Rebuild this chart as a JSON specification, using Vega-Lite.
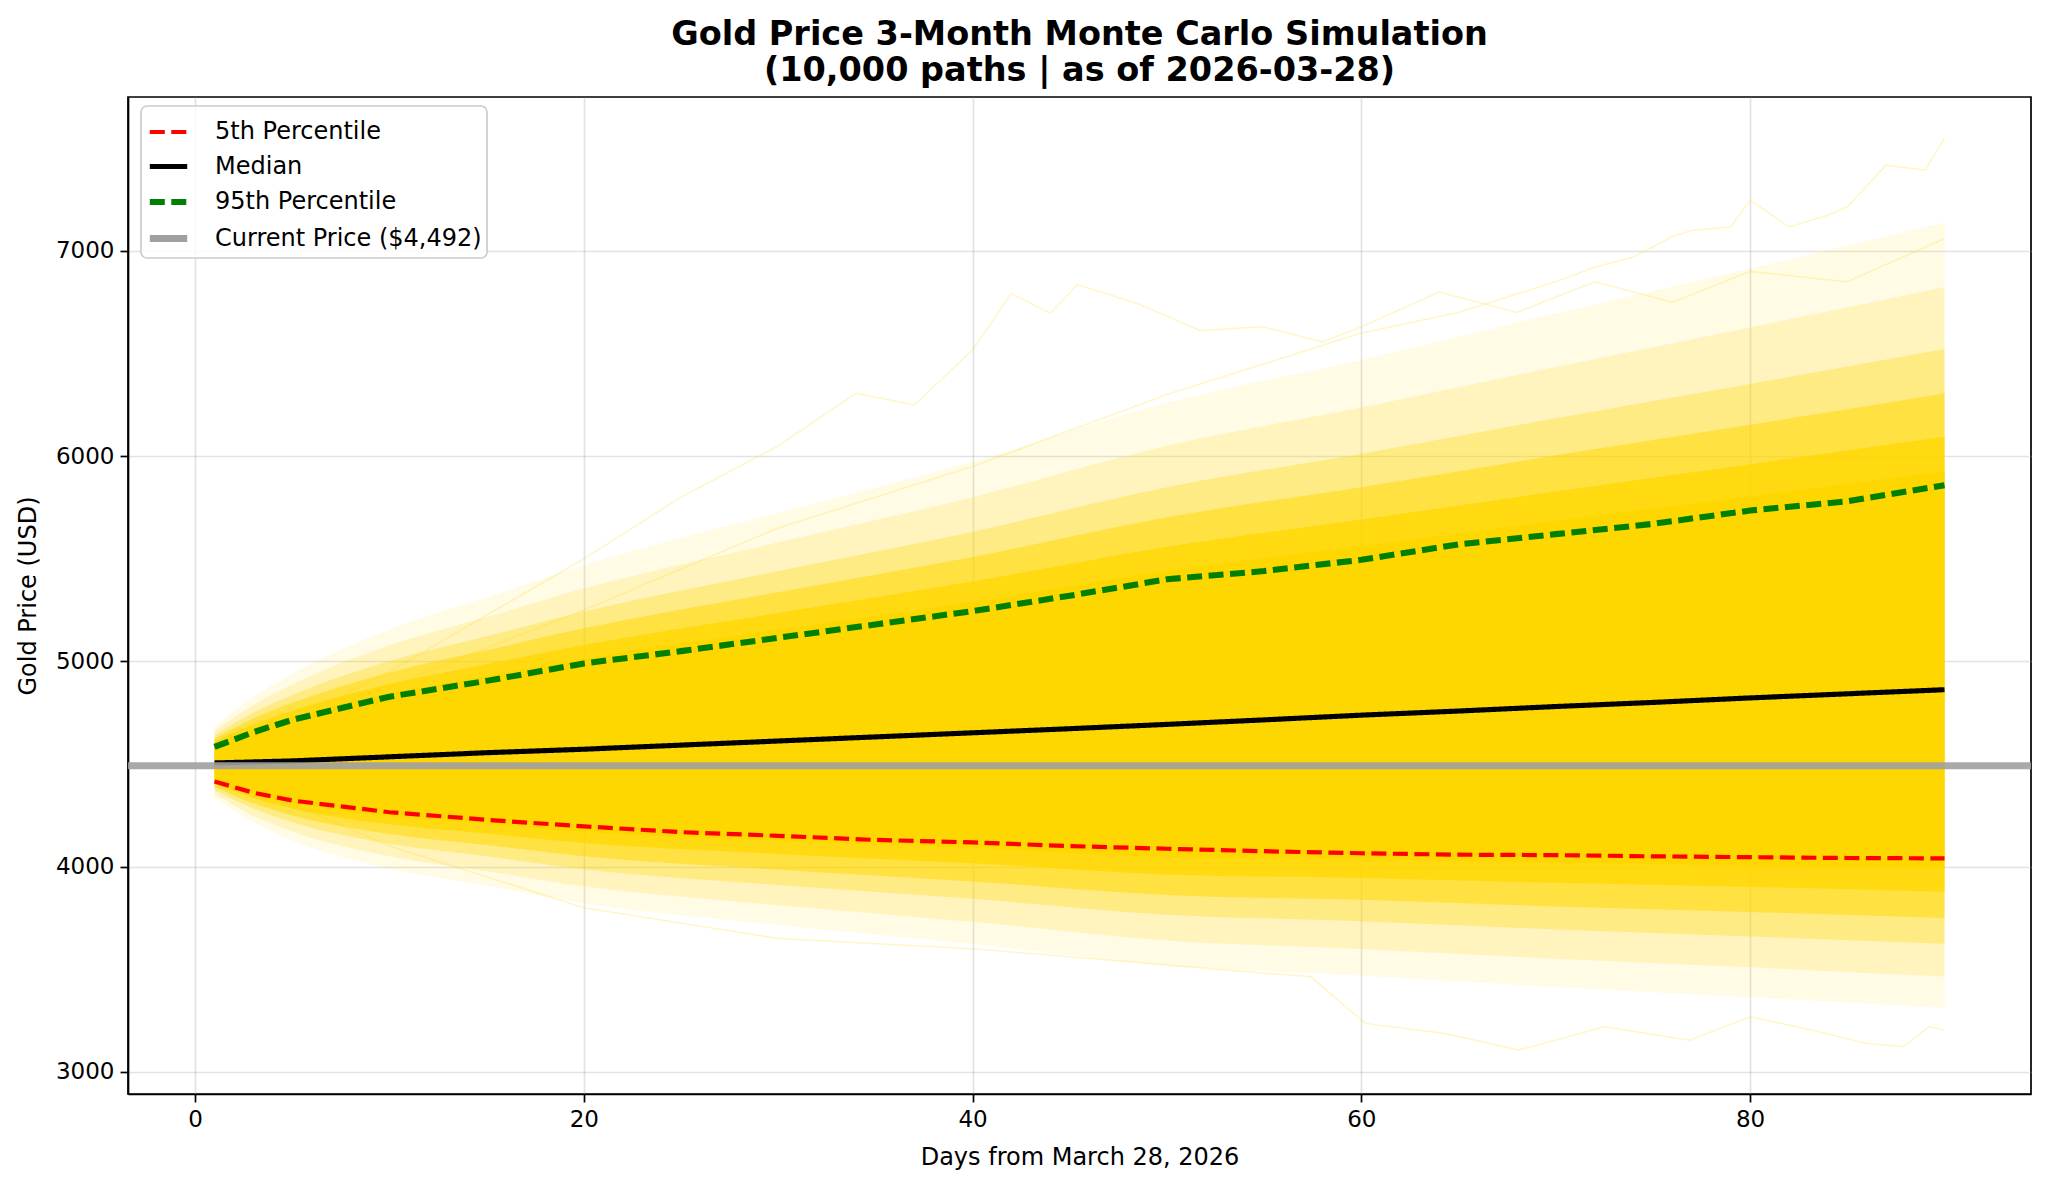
{
  "$schema": "https://vega.github.io/schema/vega-lite/v6.json",
  "description": "Gold price 3-month Monte Carlo simulation, percentile bands and lines",
  "autosize": {"type": "none"},
  "width": 1903,
  "height": 997,
  "padding": {"left": 128, "top": 97, "right": 17, "bottom": 93},
  "title": {
    "text": ["Gold Price 3-Month Monte Carlo Simulation", "(10,000 paths | as of 2026-03-28)"],
    "fontSize": 33.5,
    "fontWeight": "bold",
    "lineHeight": 36,
    "anchor": "middle",
    "offset": 9,
    "color": "black"
  },
  "datasets": {
    "bands": [
      {"day": 1, "a_lo": 4416, "a_hi": 4596, "b_lo": 4404, "b_hi": 4609, "c_lo": 4388, "c_hi": 4624, "d_lo": 4373, "d_hi": 4640, "e_lo": 4354, "e_hi": 4661, "f_lo": 4334, "f_hi": 4683},
      {"day": 3, "a_lo": 4356, "a_hi": 4670, "b_lo": 4334, "b_hi": 4693, "c_lo": 4308, "c_hi": 4722, "d_lo": 4283, "d_hi": 4750, "e_lo": 4248, "e_hi": 4787, "f_lo": 4215, "f_hi": 4826},
      {"day": 5, "a_lo": 4311, "a_hi": 4729, "b_lo": 4283, "b_hi": 4760, "c_lo": 4249, "c_hi": 4798, "d_lo": 4216, "d_hi": 4836, "e_lo": 4171, "e_hi": 4887, "f_lo": 4127, "f_hi": 4939},
      {"day": 10, "a_lo": 4245, "a_hi": 4844, "b_lo": 4206, "b_hi": 4890, "c_lo": 4159, "c_hi": 4946, "d_lo": 4111, "d_hi": 5002, "e_lo": 4050, "e_hi": 5078, "f_lo": 3989, "f_hi": 5155},
      {"day": 15, "a_lo": 4208, "a_hi": 4930, "b_lo": 4161, "b_hi": 4986, "c_lo": 4105, "c_hi": 5054, "d_lo": 4050, "d_hi": 5123, "e_lo": 3977, "e_hi": 5216, "f_lo": 3906, "f_hi": 5312},
      {"day": 20, "a_lo": 4169, "a_hi": 5014, "b_lo": 4115, "b_hi": 5080, "c_lo": 4050, "c_hi": 5161, "d_lo": 3987, "d_hi": 5243, "e_lo": 3904, "e_hi": 5355, "f_lo": 3822, "f_hi": 5469},
      {"day": 30, "a_lo": 4127, "a_hi": 5154, "b_lo": 4062, "b_hi": 5236, "c_lo": 3985, "c_hi": 5337, "d_lo": 3910, "d_hi": 5440, "e_lo": 3812, "e_hi": 5580, "f_lo": 3716, "f_hi": 5724},
      {"day": 40, "a_lo": 4091, "a_hi": 5290, "b_lo": 4016, "b_hi": 5389, "c_lo": 3928, "c_hi": 5509, "d_lo": 3843, "d_hi": 5632, "e_lo": 3731, "e_hi": 5800, "f_lo": 3623, "f_hi": 5973},
      {"day": 50, "a_lo": 4047, "a_hi": 5442, "b_lo": 3962, "b_hi": 5559, "c_lo": 3862, "c_hi": 5702, "d_lo": 3766, "d_hi": 5849, "e_lo": 3640, "e_hi": 6051, "f_lo": 3519, "f_hi": 6260},
      {"day": 60, "a_lo": 4036, "a_hi": 5562, "b_lo": 3945, "b_hi": 5691, "c_lo": 3838, "c_hi": 5849, "d_lo": 3734, "d_hi": 6012, "e_lo": 3599, "e_hi": 6237, "f_lo": 3470, "f_hi": 6469},
      {"day": 70, "a_lo": 4019, "a_hi": 5685, "b_lo": 3921, "b_hi": 5828, "c_lo": 3806, "c_hi": 6004, "d_lo": 3694, "d_hi": 6185, "e_lo": 3551, "e_hi": 6435, "f_lo": 3413, "f_hi": 6695},
      {"day": 80, "a_lo": 4006, "a_hi": 5805, "b_lo": 3901, "b_hi": 5961, "c_lo": 3779, "c_hi": 6153, "d_lo": 3660, "d_hi": 6352, "e_lo": 3509, "e_hi": 6627, "f_lo": 3363, "f_hi": 6914},
      {"day": 90, "a_lo": 3989, "a_hi": 5925, "b_lo": 3878, "b_hi": 6095, "c_lo": 3749, "c_hi": 6305, "d_lo": 3624, "d_hi": 6522, "e_lo": 3464, "e_hi": 6824, "f_lo": 3311, "f_hi": 7139}
    ],
    "paths": [
      {"path": "A", "day": 1, "price": 4520}, {"path": "A", "day": 10, "price": 4950}, {"path": "A", "day": 20, "price": 5500},
      {"path": "A", "day": 25, "price": 5800}, {"path": "A", "day": 30, "price": 6050}, {"path": "A", "day": 34, "price": 6306},
      {"path": "A", "day": 37, "price": 6249}, {"path": "A", "day": 40, "price": 6517}, {"path": "A", "day": 42, "price": 6793},
      {"path": "A", "day": 44, "price": 6696}, {"path": "A", "day": 45.4, "price": 6836}, {"path": "A", "day": 48.5, "price": 6743},
      {"path": "A", "day": 51.7, "price": 6612}, {"path": "A", "day": 54.9, "price": 6631}, {"path": "A", "day": 58, "price": 6556},
      {"path": "A", "day": 60, "price": 6630}, {"path": "A", "day": 64, "price": 6800}, {"path": "A", "day": 68, "price": 6700},
      {"path": "A", "day": 72, "price": 6850}, {"path": "A", "day": 76, "price": 6750}, {"path": "A", "day": 80, "price": 6900},
      {"path": "A", "day": 85, "price": 6850}, {"path": "A", "day": 90, "price": 7060},
      {"path": "B", "day": 1, "price": 4540}, {"path": "B", "day": 10, "price": 4880}, {"path": "B", "day": 20, "price": 5250},
      {"path": "B", "day": 30, "price": 5650}, {"path": "B", "day": 40, "price": 5950}, {"path": "B", "day": 50, "price": 6300},
      {"path": "B", "day": 55, "price": 6450}, {"path": "B", "day": 60, "price": 6600}, {"path": "B", "day": 65, "price": 6700},
      {"path": "B", "day": 70, "price": 6850}, {"path": "B", "day": 72, "price": 6920}, {"path": "B", "day": 74, "price": 6970},
      {"path": "B", "day": 76, "price": 7070}, {"path": "B", "day": 77, "price": 7100}, {"path": "B", "day": 79, "price": 7117},
      {"path": "B", "day": 80, "price": 7247}, {"path": "B", "day": 82, "price": 7117}, {"path": "B", "day": 84, "price": 7174},
      {"path": "B", "day": 85, "price": 7215}, {"path": "B", "day": 87, "price": 7418}, {"path": "B", "day": 89, "price": 7393},
      {"path": "B", "day": 90, "price": 7548},
      {"path": "C", "day": 1, "price": 4470}, {"path": "C", "day": 10, "price": 4100}, {"path": "C", "day": 20, "price": 3800},
      {"path": "C", "day": 30, "price": 3650}, {"path": "C", "day": 40, "price": 3600}, {"path": "C", "day": 50, "price": 3520},
      {"path": "C", "day": 57.4, "price": 3463}, {"path": "C", "day": 60.2, "price": 3236}, {"path": "C", "day": 64.3, "price": 3187},
      {"path": "C", "day": 68.1, "price": 3106}, {"path": "C", "day": 72.5, "price": 3220}, {"path": "C", "day": 76.9, "price": 3154},
      {"path": "C", "day": 80, "price": 3268}, {"path": "C", "day": 83.2, "price": 3203}, {"path": "C", "day": 86, "price": 3138},
      {"path": "C", "day": 87.9, "price": 3122}, {"path": "C", "day": 89.2, "price": 3220}, {"path": "C", "day": 90, "price": 3203}
    ],
    "pct": [
      {"series": "5th Percentile", "day": 1, "price": 4415}, {"series": "5th Percentile", "day": 3, "price": 4360},
      {"series": "5th Percentile", "day": 5, "price": 4322}, {"series": "5th Percentile", "day": 10, "price": 4265},
      {"series": "5th Percentile", "day": 15, "price": 4228}, {"series": "5th Percentile", "day": 20, "price": 4196},
      {"series": "5th Percentile", "day": 25, "price": 4168}, {"series": "5th Percentile", "day": 30, "price": 4150},
      {"series": "5th Percentile", "day": 35, "price": 4130}, {"series": "5th Percentile", "day": 40, "price": 4118},
      {"series": "5th Percentile", "day": 45, "price": 4100}, {"series": "5th Percentile", "day": 50, "price": 4087},
      {"series": "5th Percentile", "day": 55, "price": 4075}, {"series": "5th Percentile", "day": 60, "price": 4065},
      {"series": "5th Percentile", "day": 65, "price": 4058}, {"series": "5th Percentile", "day": 70, "price": 4056},
      {"series": "5th Percentile", "day": 75, "price": 4050}, {"series": "5th Percentile", "day": 80, "price": 4046},
      {"series": "5th Percentile", "day": 85, "price": 4042}, {"series": "5th Percentile", "day": 90, "price": 4040},
      {"series": "Median", "day": 1, "price": 4505}, {"series": "Median", "day": 3, "price": 4510},
      {"series": "Median", "day": 5, "price": 4515}, {"series": "Median", "day": 10, "price": 4535},
      {"series": "Median", "day": 15, "price": 4555}, {"series": "Median", "day": 20, "price": 4572},
      {"series": "Median", "day": 25, "price": 4592}, {"series": "Median", "day": 30, "price": 4612},
      {"series": "Median", "day": 35, "price": 4632}, {"series": "Median", "day": 40, "price": 4652},
      {"series": "Median", "day": 45, "price": 4672}, {"series": "Median", "day": 50, "price": 4693},
      {"series": "Median", "day": 55, "price": 4715}, {"series": "Median", "day": 60, "price": 4738},
      {"series": "Median", "day": 65, "price": 4758}, {"series": "Median", "day": 70, "price": 4780},
      {"series": "Median", "day": 75, "price": 4800}, {"series": "Median", "day": 80, "price": 4822},
      {"series": "Median", "day": 85, "price": 4842}, {"series": "Median", "day": 90, "price": 4862},
      {"series": "95th Percentile", "day": 1, "price": 4583}, {"series": "95th Percentile", "day": 3, "price": 4655},
      {"series": "95th Percentile", "day": 5, "price": 4715}, {"series": "95th Percentile", "day": 10, "price": 4828},
      {"series": "95th Percentile", "day": 15, "price": 4905}, {"series": "95th Percentile", "day": 20, "price": 4990},
      {"series": "95th Percentile", "day": 25, "price": 5050}, {"series": "95th Percentile", "day": 30, "price": 5115},
      {"series": "95th Percentile", "day": 35, "price": 5180}, {"series": "95th Percentile", "day": 40, "price": 5245},
      {"series": "95th Percentile", "day": 45, "price": 5320}, {"series": "95th Percentile", "day": 50, "price": 5400},
      {"series": "95th Percentile", "day": 55, "price": 5440}, {"series": "95th Percentile", "day": 60, "price": 5495},
      {"series": "95th Percentile", "day": 65, "price": 5570}, {"series": "95th Percentile", "day": 70, "price": 5620},
      {"series": "95th Percentile", "day": 75, "price": 5670}, {"series": "95th Percentile", "day": 80, "price": 5735},
      {"series": "95th Percentile", "day": 85, "price": 5780}, {"series": "95th Percentile", "day": 90, "price": 5858}
    ],
    "current": [{"series": "Current Price ($4,492)", "price": 4492}]
  },
  "layer": [
    {
      "data": {"name": "bands"},
      "mark": {"type": "area", "color": "#FFD700", "opacity": 0.1, "interpolate": "monotone"},
      "encoding": {
        "x": {"field": "day", "type": "quantitative", "title": "Days from March 28, 2026",
              "scale": {"domain": [-3.45, 94.45], "nice": false, "zero": false},
              "axis": {"values": [0, 20, 40, 60, 80]}},
        "y": {"field": "f_lo", "type": "quantitative", "title": "Gold Price (USD)",
              "scale": {"domain": [2892, 7750], "nice": false, "zero": false},
              "axis": {"values": [3000, 4000, 5000, 6000, 7000], "format": "d"}},
        "y2": {"field": "f_hi"}
      }
    },
    {
      "data": {"name": "bands"},
      "mark": {"type": "area", "color": "#FFD700", "opacity": 0.17, "interpolate": "monotone"},
      "encoding": {
        "x": {"field": "day", "type": "quantitative", "title": "Days from March 28, 2026"},
        "y": {"field": "e_lo", "type": "quantitative", "title": "Gold Price (USD)"},
        "y2": {"field": "e_hi"}
      }
    },
    {
      "data": {"name": "paths"},
      "mark": {"type": "line", "color": "#FFD700", "opacity": 0.22, "strokeWidth": 1.5},
      "encoding": {
        "x": {"field": "day", "type": "quantitative", "title": "Days from March 28, 2026"},
        "y": {"field": "price", "type": "quantitative", "title": "Gold Price (USD)"},
        "detail": {"field": "path"}
      }
    },
    {
      "data": {"name": "bands"},
      "mark": {"type": "area", "color": "#FFD700", "opacity": 0.3, "interpolate": "monotone"},
      "encoding": {
        "x": {"field": "day", "type": "quantitative", "title": "Days from March 28, 2026"},
        "y": {"field": "d_lo", "type": "quantitative", "title": "Gold Price (USD)"},
        "y2": {"field": "d_hi"}
      }
    },
    {
      "data": {"name": "bands"},
      "mark": {"type": "area", "color": "#FFD700", "opacity": 0.5, "interpolate": "monotone"},
      "encoding": {
        "x": {"field": "day", "type": "quantitative", "title": "Days from March 28, 2026"},
        "y": {"field": "c_lo", "type": "quantitative", "title": "Gold Price (USD)"},
        "y2": {"field": "c_hi"}
      }
    },
    {
      "data": {"name": "bands"},
      "mark": {"type": "area", "color": "#FFD700", "opacity": 0.75, "interpolate": "monotone"},
      "encoding": {
        "x": {"field": "day", "type": "quantitative", "title": "Days from March 28, 2026"},
        "y": {"field": "b_lo", "type": "quantitative", "title": "Gold Price (USD)"},
        "y2": {"field": "b_hi"}
      }
    },
    {
      "data": {"name": "bands"},
      "mark": {"type": "area", "color": "#FFD700", "opacity": 1, "interpolate": "monotone"},
      "encoding": {
        "x": {"field": "day", "type": "quantitative", "title": "Days from March 28, 2026"},
        "y": {"field": "a_lo", "type": "quantitative", "title": "Gold Price (USD)"},
        "y2": {"field": "a_hi"}
      }
    },
    {
      "data": {"name": "pct"},
      "mark": {"type": "line"},
      "encoding": {
        "x": {"field": "day", "type": "quantitative", "title": "Days from March 28, 2026"},
        "y": {"field": "price", "type": "quantitative", "title": "Gold Price (USD)"},
        "color": {"field": "series", "type": "nominal", "title": null,
                  "scale": {"domain": ["5th Percentile", "Median", "95th Percentile", "Current Price ($4,492)"],
                            "range": ["#ff0000", "#000000", "#008000", "#a0a0a0"]}},
        "strokeDash": {"field": "series", "type": "nominal", "title": null,
                       "scale": {"domain": ["5th Percentile", "Median", "95th Percentile", "Current Price ($4,492)"],
                                 "range": [[15, 6.5], [1, 0], [15, 6.5], [1, 0]]}},
        "strokeWidth": {"field": "series", "type": "nominal", "title": null,
                        "scale": {"domain": ["5th Percentile", "Median", "95th Percentile", "Current Price ($4,492)"],
                                  "range": [4.2, 7, 4.2, 2.2]}}
      }
    },
    {
      "data": {"name": "current"},
      "mark": {"type": "rule", "opacity": 0.9},
      "encoding": {
        "y": {"field": "price", "type": "quantitative", "title": "Gold Price (USD)"},
        "color": {"field": "series", "type": "nominal", "title": null},
        "strokeDash": {"field": "series", "type": "nominal", "title": null},
        "strokeWidth": {"field": "series", "type": "nominal", "title": null}
      }
    }
  ],
  "config": {
    "font": "DejaVu Sans",
    "view": {"stroke": "#000000", "strokeWidth": 1.7},
    "axis": {
      "labelFont": "DejaVu Sans",
      "labelFontSize": 23,
      "labelColor": "#000000",
      "titleFont": "DejaVu Sans",
      "titleFontSize": 24,
      "titleFontWeight": "normal",
      "titleColor": "#000000",
      "domainColor": "#000000",
      "domainWidth": 1.7,
      "tickColor": "#000000",
      "tickWidth": 1.7,
      "tickSize": 8,
      "labelPadding": 6,
      "gridColor": "#b0b0b0",
      "gridOpacity": 0.35,
      "gridWidth": 1.7,
      "zindex": 1
    },
    "axisX": {"titlePadding": 14, "labelFlush": false},
    "axisY": {"titlePadding": 15},
    "legend": {
      "orient": "none",
      "legendX": 13,
      "legendY": 9,
      "symbolType": "stroke",
      "symbolSize": 1400,
      "symbolOpacity": 1,
      "labelFont": "DejaVu Sans",
      "labelFontSize": 24,
      "labelColor": "#000000",
      "labelLimit": 0,
      "labelOffset": 24,
      "rowPadding": 1,
      "padding": 5,
      "fillColor": "rgba(255,255,255,0.8)",
      "strokeColor": "#cccccc",
      "strokeWidth": 1.7,
      "cornerRadius": 6
    }
  }
}
